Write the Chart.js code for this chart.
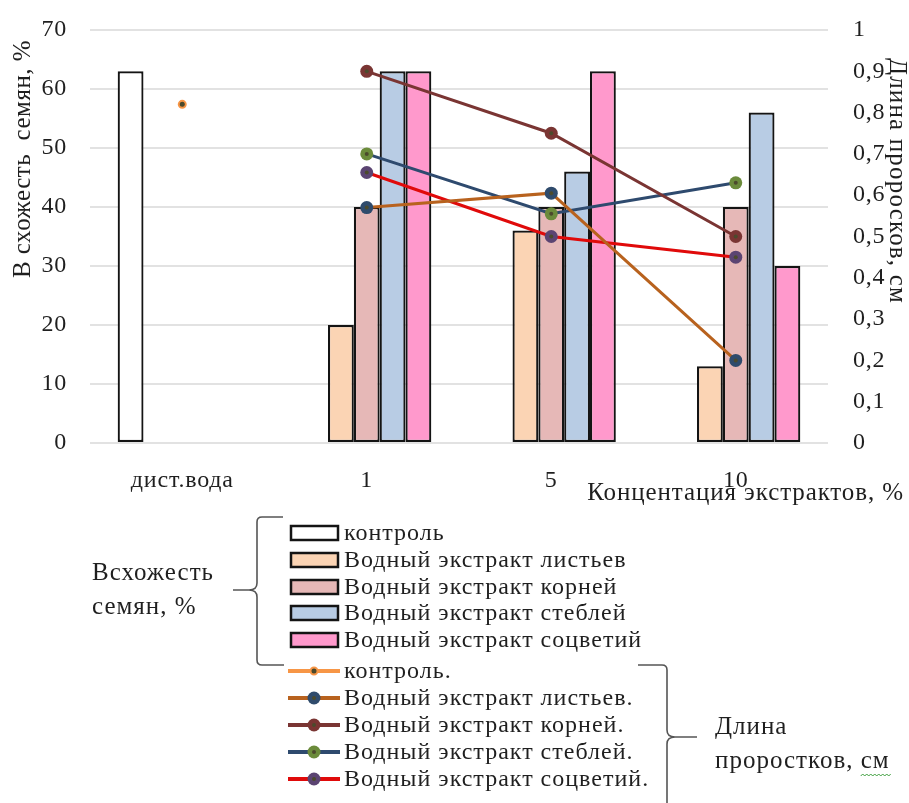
<!DOCTYPE html>
<html lang="ru">
<head>
<meta charset="utf-8">
<title>Всхожесть семян и длина проростков</title>
<script src="https://cdn.jsdelivr.net/npm/chart.js@4/dist/chart.umd.min.js"></script>
<style>
  html, body { margin: 0; padding: 0; background: #ffffff; }
  #wrap { position: relative; width: 909px; height: 803px; }
</style>
</head>
<body>
<div id="wrap"><canvas id="chart" width="909" height="803"></canvas></div>
<script>
// Категории (концентрация экстрактов, %)
const categories = ['дист.вода', '1', '5', '10'];

// Всхожесть семян, % (столбцы, левая ось)
const germControl = [63, null, null, null];
const germLeaves  = [null, 20, 36, 13];
const germRoots   = [null, 40, 40, 40];
const germStems   = [null, 63, 46, 56];
const germFlowers = [null, 63, 63, 30];

// Длина проростков, см (линии, правая ось)
const lenControl = [0.82, null, null, null];
const lenLeaves  = [null, 0.57, 0.605, 0.20];
const lenRoots   = [null, 0.90, 0.75, 0.50];
const lenStems   = [null, 0.70, 0.555, 0.63];
const lenFlowers = [null, 0.655, 0.50, 0.45];

const barLabels  = ['контроль', 'Водный экстракт листьев', 'Водный экстракт корней',
                    'Водный экстракт стеблей', 'Водный экстракт соцветий'];
const lineLabels = ['контроль.', 'Водный экстракт листьев.', 'Водный экстракт корней.',
                    'Водный экстракт стеблей.', 'Водный экстракт соцветий.'];

const leftTicks  = [0, 10, 20, 30, 40, 50, 60, 70];
const rightTicks = [0, 0.1, 0.2, 0.3, 0.4, 0.5, 0.6, 0.7, 0.8, 0.9, 1];

const SERIF = '"Liberation Serif", "DejaVu Serif", serif';
const TEXT = '#1f1f1f';
const DOT = '#4b4a2c';

function barSet(label, data, color) {
  return {
    type: 'bar', label, data, yAxisID: 'y', order: 2,
    backgroundColor: color, borderColor: '#141414', borderWidth: 2.2,
    borderSkipped: false
  };
}
function lineSet(label, data, lineColor, markColor, radius) {
  return {
    type: 'line', label, data, yAxisID: 'y1', order: 1,
    borderColor: lineColor, borderWidth: 3, backgroundColor: markColor,
    pointBackgroundColor: markColor, pointBorderColor: markColor,
    pointBorderWidth: 0, pointRadius: radius, pointHoverRadius: radius,
    spanGaps: false, tension: 0, fill: false
  };
}

const datasets = [
  barSet(barLabels[0], germControl, '#ffffff'),
  barSet(barLabels[1], germLeaves,  '#fbd4b4'),
  barSet(barLabels[2], germRoots,   '#e6b8b7'),
  barSet(barLabels[3], germStems,   '#b8cce4'),
  barSet(barLabels[4], germFlowers, '#ff99cc'),
  lineSet(lineLabels[0], lenControl, '#f79646', DOT, 4),
  lineSet(lineLabels[1], lenLeaves,  '#b8621e', '#2f4b6c', 6.5),
  lineSet(lineLabels[2], lenRoots,   '#7a3533', '#7a3533', 6.5),
  lineSet(lineLabels[3], lenStems,   '#2e4a6e', '#6b8b3b', 6.5),
  lineSet(lineLabels[4], lenFlowers, '#e00a0a', '#5b4472', 6.5)
];
// контрольный маркер: тёмная точка в оранжевом кольце
datasets[5].pointBorderColor = '#f79646';
datasets[5].pointBorderWidth = 2;
datasets[5].pointRadius = 3.5;

function fmtComma(v) {
  const r = Math.round(v * 10) / 10;
  return String(r).replace('.', ',');
}

// вертикальные шкалы: фиксированная ширина, без запаса сверху и снизу
function fitVertical(width) {
  return function (s) {
    s.width = width;
    s.paddingTop = 0;
    s.paddingBottom = 0;
  };
}

// разрядка букв подписей осей (шкалы рисуются до наборов данных)
const tickSpacing = {
  id: 'tickSpacing',
  beforeDraw(chart) { chart.ctx.letterSpacing = '0.8px'; },
  beforeDatasetsDraw(chart) { chart.ctx.letterSpacing = '0px'; }
};

// тёмные точки в центрах маркеров
const markerCenters = {
  id: 'markerCenters',
  afterDatasetsDraw(chart) {
    const ctx = chart.ctx;
    chart.data.datasets.forEach((ds, i) => {
      if (ds.type !== 'line') return;
      const meta = chart.getDatasetMeta(i);
      meta.data.forEach((pt, j) => {
        if (ds.data[j] == null) return;
        ctx.save();
        ctx.fillStyle = DOT;
        ctx.beginPath();
        ctx.arc(pt.x, pt.y, 2, 0, Math.PI * 2);
        ctx.fill();
        ctx.restore();
      });
    });
  }
};

// подписи осей
const axisTitles = {
  id: 'axisTitles',
  afterDraw(chart) {
    const ctx = chart.ctx;
    ctx.save();
    ctx.fillStyle = TEXT;
    ctx.textBaseline = 'middle';
    ctx.textAlign = 'center';
    ctx.font = '25px ' + SERIF;

    ctx.save();
    ctx.letterSpacing = '0.5px';
    ctx.translate(23, 159);
    ctx.rotate(-Math.PI / 2);
    ctx.fillText('В схожесть  семян, %', 0, 0);
    ctx.restore();

    ctx.save();
    ctx.letterSpacing = '1.2px';
    ctx.translate(897, 181);
    ctx.rotate(Math.PI / 2);
    ctx.fillText('Длина проросков, см', 0, 0);
    ctx.restore();

    ctx.textAlign = 'right';
    ctx.letterSpacing = '0.9px';
    ctx.fillText('Концентация экстрактов, %', 904, 493);
    ctx.restore();
  }
};

// сгруппированная легенда со скобками
const groupedLegend = {
  id: 'groupedLegend',
  afterDraw(chart) {
    const ctx = chart.ctx;
    const sets = chart.data.datasets;
    const rowY = [533, 560, 587, 613, 640, 671, 698, 725, 752, 779];
    ctx.save();
    ctx.font = '24px ' + SERIF;
    ctx.letterSpacing = '1px';
    ctx.textBaseline = 'middle';
    ctx.textAlign = 'left';
    sets.forEach((ds, i) => {
      const y = rowY[i];
      if (ds.type === 'bar') {
        ctx.fillStyle = ds.backgroundColor;
        ctx.fillRect(291, y - 7, 47, 14);
        ctx.strokeStyle = '#141414';
        ctx.lineWidth = 2.5;
        ctx.strokeRect(291, y - 7, 47, 14);
      } else {
        ctx.strokeStyle = ds.borderColor;
        ctx.lineWidth = 4;
        ctx.beginPath();
        ctx.moveTo(288, y);
        ctx.lineTo(340, y);
        ctx.stroke();
        ctx.beginPath();
        ctx.arc(314, y, ds.pointRadius, 0, Math.PI * 2);
        ctx.fillStyle = ds.pointBackgroundColor;
        ctx.fill();
        if (ds.pointBorderWidth) {
          ctx.strokeStyle = ds.pointBorderColor;
          ctx.lineWidth = ds.pointBorderWidth;
          ctx.stroke();
        }
        ctx.beginPath();
        ctx.arc(314, y, 2, 0, Math.PI * 2);
        ctx.fillStyle = DOT;
        ctx.fill();
      }
      ctx.fillStyle = TEXT;
      ctx.fillText(ds.label, 344, y + 1);
    });

    // скобки групп
    ctx.strokeStyle = '#555555';
    ctx.lineWidth = 1.6;
    ctx.beginPath();
    ctx.moveTo(283, 517);
    ctx.lineTo(262, 517);
    ctx.quadraticCurveTo(257, 517, 257, 522);
    ctx.lineTo(257, 583);
    ctx.quadraticCurveTo(257, 590, 249, 590);
    ctx.lineTo(233, 590);
    ctx.moveTo(249, 590);
    ctx.quadraticCurveTo(257, 590, 257, 597);
    ctx.lineTo(257, 660);
    ctx.quadraticCurveTo(257, 665, 262, 665);
    ctx.lineTo(284, 665);
    ctx.stroke();

    ctx.beginPath();
    ctx.moveTo(638, 665);
    ctx.lineTo(662, 665);
    ctx.quadraticCurveTo(667, 665, 667, 670);
    ctx.lineTo(667, 730);
    ctx.quadraticCurveTo(667, 737, 675, 737);
    ctx.lineTo(697, 737);
    ctx.moveTo(675, 737);
    ctx.quadraticCurveTo(667, 737, 667, 744);
    ctx.lineTo(667, 803);
    ctx.stroke();

    // названия групп
    ctx.fillStyle = TEXT;
    ctx.font = '25px ' + SERIF;
    ctx.fillText('Всхожесть', 92, 573);
    ctx.fillText('семян, %', 92, 607);
    ctx.fillText('Длина', 715, 727);
    ctx.fillText('проростков, см', 715, 761);

    // волнистое подчёркивание проверки орфографии
    const w0 = ctx.measureText('проростков, ').width;
    const w1 = ctx.measureText('см').width;
    ctx.strokeStyle = '#3f9f3f';
    ctx.lineWidth = 1;
    ctx.beginPath();
    let x = 715 + w0;
    let up = true;
    ctx.moveTo(x, 776);
    while (x < 715 + w0 + w1) {
      x += 2;
      ctx.lineTo(x, up ? 774 : 776);
      up = !up;
    }
    ctx.stroke();
    ctx.restore();
  }
};

new Chart(document.getElementById('chart'), {
  type: 'bar',
  data: { labels: categories, datasets },
  options: {
    responsive: false,
    animation: false,
    devicePixelRatio: 1,
    layout: { autoPadding: false, padding: { top: 30, left: 0, right: 0, bottom: 310 } },
    plugins: {
      legend: { display: false },
      tooltip: { enabled: false },
      title: { display: false }
    },
    datasets: {
      bar: { categoryPercentage: 0.7, barPercentage: 1.0 }
    },
    scales: {
      x: {
        type: 'category',
        offset: true,
        grid: { display: false, drawTicks: false },
        border: { display: false },
        ticks: { color: TEXT, font: { family: SERIF, size: 24 }, padding: 23, maxRotation: 0 },
        afterFit(s) { s.height = 50; }
      },
      y: {
        position: 'left',
        min: 0, max: 70,
        afterBuildTicks(s) { s.ticks = leftTicks.map(v => ({ value: v })); },
        grid: { color: '#e2e2e2', lineWidth: 2, drawTicks: false },
        border: { display: false },
        ticks: { color: TEXT, font: { family: SERIF, size: 24 }, padding: 23 },
        afterFit: fitVertical(90)
      },
      y1: {
        position: 'right',
        min: 0, max: 1,
        afterBuildTicks(s) { s.ticks = rightTicks.map(v => ({ value: v })); },
        grid: { display: false, drawTicks: false },
        border: { display: false },
        ticks: { color: TEXT, font: { family: SERIF, size: 24 }, padding: 25, callback: fmtComma },
        afterFit: fitVertical(81)
      }
    }
  },
  plugins: [tickSpacing, markerCenters, axisTitles, groupedLegend]
});
</script>
</body>
</html>
